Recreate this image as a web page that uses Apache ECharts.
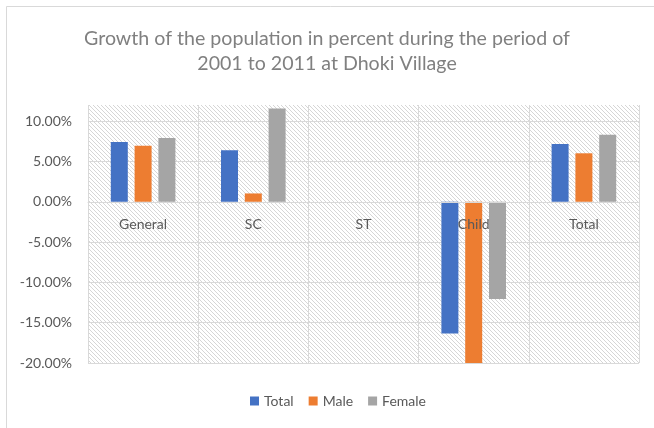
<!DOCTYPE html>
<html>
<head>
<meta charset="utf-8">
<script src="https://cdn.jsdelivr.net/npm/echarts@6/dist/echarts.min.js"></script>
<style>html,body{margin:0;padding:0;background:#fff}#c{width:654px;height:428px}</style>
</head>
<body>
<div id="c"></div>
<script>
const categories = ['General', 'SC', 'ST', 'Child', 'Total'];
const totalValues = [7.41, 6.38, 0, -16.33, 7.16];
const maleValues = [6.95, 1.03, 0, -20.0, 6.01];
const femaleValues = [7.90, 11.57, 0, -12.06, 8.31];
const seriesNames = ['Total', 'Male', 'Female'];
const yTicks = [-20, -15, -10, -5, 0, 5, 10];

// hatch pattern
const pc = document.createElement('canvas');
pc.width = 4; pc.height = 4;
const g = pc.getContext('2d');
g.fillStyle = '#ffffff'; g.fillRect(0, 0, 4, 4);
g.strokeStyle = '#d6d6d6'; g.lineWidth = 1;
g.beginPath();
g.moveTo(-1, -1); g.lineTo(5, 5);
g.moveTo(-1, 3); g.lineTo(1, 5);
g.moveTo(3, -1); g.lineTo(5, 1);
g.stroke();

const chart = echarts.init(document.getElementById('c'));
const font = 'Lato, "Open Sans", sans-serif';
const splitColors = yTicks.map(() => '#d9d9d9').concat(['rgba(0,0,0,0)', 'rgba(0,0,0,0)']);
chart.setOption({
  animation: false,
  backgroundColor: '#fff',
  textStyle: { fontFamily: font },
  title: {
    text: 'Growth of the population in percent during the period of\n2001 to 2011 at Dhoki Village',
    left: 'center', top: 21,
    textStyle: { fontFamily: font, fontSize: 19.6, fontWeight: 'normal', color: '#808080', lineHeight: 25 }
  },
  graphic: [{ type: 'rect', shape: { x: 6.5, y: 6.5, width: 700, height: 500 }, style: { fill: 'none', stroke: '#d9d9d9', lineWidth: 1 }, z: -1 }],
  legend: {
    data: seriesNames, bottom: 15, left: 245,
    icon: 'rect', itemWidth: 9, itemHeight: 9, itemGap: 15,
    textStyle: { fontFamily: font, fontSize: 14, color: '#595959' }
  },
  grid: { left: 88, right: 15, top: 105, bottom: 65, show: true, borderWidth: 0,
    backgroundColor: { image: pc, repeat: 'repeat' } },
  xAxis: {
    type: 'category', data: categories, z: 5,
    axisLine: { show: true, onZero: true, lineStyle: { color: '#d9d9d9', width: 1 } },
    axisTick: { show: false },
    splitLine: { show: true, lineStyle: { color: '#d9d9d9', width: 1 } },
    axisLabel: { margin: -146, fontSize: 14, color: '#595959', fontFamily: font }
  },
  yAxis: {
    type: 'value', min: -20, max: 12, interval: 5,
    axisLine: { show: false }, axisTick: { show: false },
    splitLine: { show: true, lineStyle: { color: splitColors, width: 1 } },
    axisLabel: { showMaxLabel: false, margin: 16, fontSize: 14, color: '#595959', fontFamily: font,
      formatter: v => v.toFixed(2) + '%' }
  },
  series: [
    { name: seriesNames[0], type: 'bar', data: totalValues, barWidth: 17, barGap: '40%', itemStyle: { color: '#4472C4' } },
    { name: seriesNames[1], type: 'bar', data: maleValues, barWidth: 17, barGap: '40%', itemStyle: { color: '#ED7D31' } },
    { name: seriesNames[2], type: 'bar', data: femaleValues, barWidth: 17, barGap: '40%', itemStyle: { color: '#A5A5A5' } }
  ]
});
</script>
</body>
</html>
